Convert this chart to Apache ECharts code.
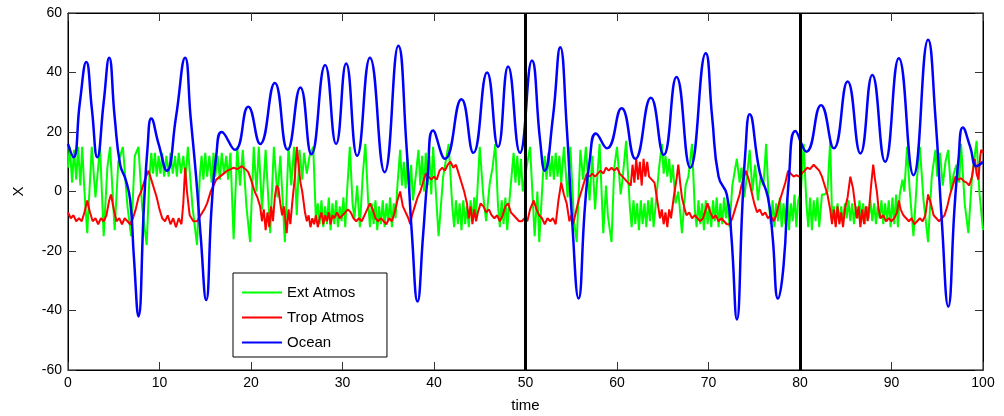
<!DOCTYPE html>
<html>
<head>
<meta charset="utf-8">
<script src="https://cdn.jsdelivr.net/npm/echarts@6/dist/echarts.min.js"></script>
<style>html,body{margin:0;padding:0;background:#fff}#c{width:1004px;height:416px}</style>
</head>
<body>
<div id="c"></div>
<script>
// ---- data ([time, value]) ----
const xTicks = [0,10,20,30,40,50,60,70,80,90,100];
const yTicks = [-60,-40,-20,0,20,40,60];
const markTimes = [50, 80];
const seriesNames = ['Ext Atmos','Trop Atmos','Ocean'];

const extAtmos = [
[0,8],[0.2,15],[0.45,3],[0.65,14],[0.9,4],[1.1,15],[1.35,2],[1.55,15],[1.8,0],[2.1,-14],[2.6,15],[3.0,-2],[3.5,15],[3.9,-15],[4.3,8],[4.6,15],[5.1,-13],[5.5,10],[6.0,15],[6.5,-5],[6.9,-15],[7.3,12],[7.7,15],[8.1,-5],[8.6,-18],[8.9,5],
[9.1,13],[9.3,6],[9.5,13],[9.7,5],[9.9,12],[10.1,6],[10.3,13],[10.5,5],[10.75,12],[11.0,5],[11.2,13],[11.45,6],[11.7,12],[11.9,5],[12.1,13],[12.35,6],[12.6,12],[12.85,4],[13.1,15],[13.6,-5],[14.1,-18],[14.4,5],
[14.6,12],[14.8,4],[15.0,13],[15.2,5],[15.45,12],[15.7,3],[15.9,13],[16.1,5],[16.35,12],[16.6,4],[16.8,13],[17.05,6],[17.3,12],[17.5,4],[17.75,13],[18.1,-16],
[18.5,15],[18.8,2],[19.1,14],[19.5,-5],[19.9,-17],[20.3,15],[20.6,0],[20.85,15],[21.2,-6],[21.6,14],[22.1,-14],[22.5,15],[22.9,-2],[23.2,12],[23.7,-17],[24.1,15],[24.4,2],[24.7,15],[25.0,-8],[25.3,14],[25.6,4],[25.8,13],[26.1,6],[26.4,12],[26.8,15],[27.1,-10],
[27.3,-4],[27.5,-11],[27.7,-3],[27.9,-12],[28.1,-5],[28.3,-11],[28.5,-2],[28.7,-13],[28.9,-4],[29.1,-11],[29.3,-3],[29.5,-12],[29.7,-5],[29.9,-10],[30.1,-2],[30.3,-12],[30.5,0],[30.8,15],[31.1,-4],[31.3,-9],[31.6,2],[31.9,-12],[32.2,5],[32.5,16],[32.8,-3],[33.0,-12],
[33.2,-4],[33.4,-11],[33.6,-3],[33.8,-13],[34.0,-5],[34.2,-11],[34.4,-3],[34.6,-12],[34.8,-4],[35.0,-10],[35.2,-2],[35.4,-12],[35.6,-4],[35.8,-9],[36.0,2],[36.3,14],[36.5,2],[36.7,10],[36.9,1],[37.1,11],[37.3,0],[37.5,9],[37.7,-3],[38.0,5],[38.3,14],[38.5,2],
[38.7,12],[38.9,0],[39.1,13],[39.3,2],[39.5,12],[39.7,-1],[39.9,15],[40.5,-15],[41.0,5],[41.6,16],[42.0,-5],[42.2,-12],[42.4,-3],[42.6,-11],[42.8,-4],[43.0,-13],[43.2,-3],[43.4,-11],[43.6,-5],[43.8,-12],[44.0,-3],[44.2,-10],[44.4,-2],[44.6,-8],[45.0,15],[45.4,-2],[45.7,-10],[46.1,3],[46.4,8],[46.7,16],[47.0,-5],
[47.2,-12],[47.4,-3],[47.6,-11],[47.8,-2],[48.0,-13],[48.3,-1],[48.7,13],[48.9,3],[49.1,12],[49.3,2],[49.5,11],[49.7,0],[50.0,6],[50.5,15],[51.0,-15],[51.3,0],[51.5,-17],
[51.9,5],[52.1,12],[52.3,4],[52.5,13],[52.7,5],[52.9,12],[53.1,4],[53.3,13],[53.5,5],[53.7,12],[53.9,3],[54.2,15],[54.6,-2],[54.9,15],[55.3,-10],[55.6,-17],[56.0,14],[56.3,4],[56.6,15],[57.0,-3],[57.3,12],[57.6,-6],[58.1,16],[58.5,-14],[58.8,2],[59.0,-8],[59.4,-17],[59.7,8],[60.0,15],[60.4,-1],[60.6,4],[61.0,17],[61.4,-5],
[61.6,-12],[61.8,-3],[62.0,-11],[62.2,-4],[62.4,-13],[62.6,-3],[62.8,-11],[63.0,-4],[63.2,-12],[63.4,-3],[63.6,-10],[63.8,-2],[64.0,-12],[64.3,-2],[64.6,8],[64.9,16],[65.1,6],[65.3,12],[65.5,5],[65.7,11],[65.9,3],[66.1,9],[66.4,-4],[66.7,0],[67.1,-14],[67.5,2],[67.8,5],[68.2,16],[68.5,-6],
[68.7,-12],[68.9,-3],[69.1,-11],[69.3,-4],[69.5,-13],[69.7,-3],[69.9,-11],[70.1,-5],[70.3,-12],[70.5,-3],[70.7,-10],[70.9,-2],[71.1,-12],[71.3,-4],[71.5,-11],[71.7,-2],[71.9,-9],[72.1,-3],[72.3,-12],[72.6,2],[73.1,11],[73.4,3],[73.6,8],[73.9,-2],[74.2,5],[74.5,14],[74.8,0],[75.1,9],[75.4,-3],[75.7,5],[76.0,2],[76.3,16],[76.6,-4],
[76.8,-11],[77.0,-3],[77.2,-12],[77.4,-4],[77.6,-10],[77.8,-2],[78.0,-12],[78.2,-4],[78.4,-11],[78.6,-2],[78.8,-13],[79.0,-4],[79.2,-10],[79.4,-1],[79.6,-12],[79.8,-3],[80.1,0],[80.4,16],[80.7,-4],[80.9,-12],[81.1,-2],[81.3,-13],[81.5,-3],[81.7,-10],[81.9,-2],[82.1,-12],[82.4,-1],[82.7,-1],[83.0,0],[83.3,17],[83.5,-8],
[83.7,-5],[83.9,-11],[84.1,-4],[84.3,-10],[84.5,-5],[84.7,-11],[84.9,-4],[85.1,-9],[85.3,-3],[85.5,-10],[85.7,-4],[85.9,-11],[86.1,-5],[86.3,-9],[86.5,-3],[86.7,-10],[86.9,-4],[87.1,-11],[87.3,-5],[87.5,-9],[87.7,-3],[87.9,-10],[88.1,-4],[88.3,-11],[88.5,-5],[88.7,-9],[88.9,-3],[89.1,-11],[89.3,-4],[89.5,-10],[89.7,-3],[89.9,-12],[90.1,-2],[90.3,-11],[90.5,-1],[90.7,-12],[90.9,-1],[91.2,4],[91.4,0],[91.7,15],
[92.0,0],[92.4,-15],[92.8,5],[93.1,15],[93.5,-3],[94.0,-17],[94.4,5],[94.8,14],[95.0,5],[95.3,13],[95.6,2],[95.9,10],[96.2,14],[96.5,0],[96.8,6],[97.1,9],[97.4,3],[97.6,16],[98.0,-4],[98.4,-14],[98.8,5],[99.3,17],[99.6,0],[100,-13]
];

const tropAtmos = [
[0,-7],[0.3,-9],[0.6,-8],[0.9,-10],[1.2,-9],[1.5,-10],[1.8,-7],[2.1,-3],[2.4,-7],[2.7,-10],[3.0,-9],[3.3,-11],[3.6,-9],[3.9,-10],[4.2,-8],[4.5,-3],[4.7,-1],[5.0,-6],[5.3,-10],[5.6,-9],[5.9,-11],[6.2,-9],[6.5,-10],[6.8,-11],[7.1,-9],[7.4,-6],[7.7,-2],[8.0,0],[8.4,4],[8.8,7],[9.1,4],[9.4,1],[9.7,-2],[10.0,-6],
[10.3,-9],[10.6,-10],[10.9,-8],[11.2,-11],[11.5,-9],[11.8,-12],[12.1,-9],[12.4,-11],[12.6,-4],[12.8,8],[13.0,0],[13.3,-8],[13.7,-10],[14.1,-10],[14.5,-8],[14.9,-6],[15.2,-4],[15.6,0],[15.9,2],[16.2,4],[16.6,5],[17.0,6],[17.4,7],[17.8,7.5],[18.1,8],[18.5,7.5],[19.0,8.5],[19.4,7.5],[19.7,6.5],[20.0,4],[20.4,0],[20.7,-2],
[21.0,-5],[21.2,-10],[21.4,-6],[21.6,-13],[21.8,-7],[22.0,-12],[22.2,-5],[22.4,-10],[22.6,-2],[22.8,2],[23.0,1],[23.2,-4],[23.4,-8],[23.6,-5],[23.9,-14],[24.1,-6],[24.3,-11],[24.5,-4],[24.8,5],[25.0,15],[25.2,9],[25.4,3],[25.6,0],[25.9,-7],[26.1,-10],[26.3,-8],[26.5,-12],[26.7,-9],[26.9,-11],[27.1,-8],[27.3,-12],[27.5,-9],
[27.7,-7],[27.9,-11],[28.1,-8],[28.3,-10],[28.5,-7],[28.7,-11],[28.9,-8],[29.1,-9],[29.4,-7],[29.7,-9],[30.0,-8],[30.3,-7],[30.6,-6],[30.9,-7],[31.2,-9],[31.5,-10],[31.8,-9],[32.1,-10],[32.4,-8],[32.7,-6],[33.0,-4],[33.3,-6],[33.6,-9],[33.9,-10],[34.2,-9],[34.5,-10],[34.8,-11],[35.1,-9],[35.4,-10],[35.7,-7],[36.0,-3],[36.3,0],
[36.6,-5],[36.9,-7],[37.2,-9],[37.4,-11],[37.6,-8],[37.9,-5],[38.2,-2],[38.5,0],[38.8,3],[39.1,6],[39.4,5],[39.7,4],[40.0,5],[40.3,4],[40.6,7],[40.9,8],[41.2,7],[41.5,9],[41.8,10],[42.1,8],[42.4,9],[42.7,6],[43.0,3],[43.3,0],[43.6,-4],[43.8,-9],[44.0,-5],[44.2,-11],[44.4,-6],[44.6,-10],[44.8,-7],[45.1,-4],[45.4,-5],
[45.7,-7],[46.0,-6],[46.3,-8],[46.6,-9],[46.9,-8],[47.2,-10],[47.5,-8],[47.8,-5],[48.1,-4],[48.4,-7],[48.7,-8],[49.0,-9],[49.3,-10],[49.6,-10],[49.9,-9],[50.2,-10],[50.5,-6],[50.9,-3],[51.2,-6],[51.5,-8],[51.8,-9],[52.1,-11],[52.4,-9],[52.7,-10],[53.0,-9],[53.3,-11],[53.6,-3],[53.9,3],[54.2,-1],[54.5,-4],[54.8,-10],
[55.0,-8],[55.2,-11],[55.5,-7],[55.8,-3],[56.1,0],[56.4,3],[56.7,6],[57.0,5],[57.3,6],[57.6,5],[57.9,6],[58.2,7],[58.5,6],[58.8,8],[59.1,7],[59.4,8],[59.7,7],[60.0,8],[60.3,6],[60.6,5],[60.9,4],[61.2,3],[61.5,2],[61.7,9],[61.9,3],[62.1,11],[62.3,4],[62.5,10],[62.7,2],[62.9,11],[63.1,5],[63.3,10],[63.5,5],[63.8,4],
[64.1,3],[64.4,-3],[64.7,-9],[64.9,-6],[65.1,-11],[65.3,-7],[65.5,-12],[65.7,-6],[65.9,-9],[66.2,-2],[66.5,4],[66.7,9],[66.9,3],[67.1,-2],[67.4,-6],[67.6,-8],[67.9,-7],[68.2,-9],[68.5,-8],[68.8,-9],[69.1,-10],[69.4,-9],[69.7,-6],[69.9,-4],[70.2,-7],[70.5,-9],[70.8,-8],[71.1,-10],[71.4,-9],[71.7,-10],[72.0,-11],
[72.3,-11],[72.6,-9],[72.9,-6],[73.1,-4],[73.4,-1],[73.6,2],[73.9,5],[74.1,7],[74.4,4],[74.7,0],[75.0,-4],[75.3,-7],[75.6,-6],[75.9,-8],[76.2,-7],[76.5,-9],[76.8,-8],[77.1,-10],[77.4,-8],[77.7,-4],[78.0,-1],[78.4,3],[78.7,7],[79.0,6],[79.3,5],[79.6,5.5],[79.9,5],[80.2,6],[80.5,7],[80.8,8],[81.1,7.5],[81.5,9],
[81.8,8],[82.1,7],[82.4,5],[82.7,2],[83.0,-1],[83.3,-6],[83.5,-11],[83.7,-6],[83.9,-12],[84.1,-5],[84.3,-11],[84.5,-7],[84.7,-12],[84.9,-6],[85.2,-2],[85.5,5],[85.8,1],[86.0,-4],[86.2,-9],[86.4,-5],[86.6,-12],[86.8,-6],[87.0,-11],[87.2,-5],[87.4,-10],[87.6,-4],[87.8,3],[88.0,9],[88.2,4],[88.4,0],[88.6,-6],
[88.8,-9],[89.1,-8],[89.4,-10],[89.7,-9],[90.0,-10],[90.3,-9],[90.6,-7],[90.8,-3],[91.0,-6],[91.3,-8],[91.6,-9],[91.9,-10],[92.2,-9],[92.5,-11],[92.8,-10],[93.1,-9],[93.4,-10],[93.7,-8],[94.0,-1],[94.3,-4],[94.6,-8],[94.9,-9],[95.2,-10],[95.5,-9],[95.8,-8],[96.1,-5],[96.4,-1],[96.7,2],[97.0,5],[97.3,4],
[97.6,4.5],[97.9,3.5],[98.2,3],[98.5,2],[98.8,5],[99.1,11],[99.3,6],[99.5,4],[99.7,12],[99.8,14],[100,13]
];

const ocean = [
[0,16],[0.6,11.5],[1.3,30],[2.0,43.5],[2.6,28],[3.2,11.5],[3.9,30],[4.5,45],[5.1,25],[5.7,9],[6.3,4],[6.8,-3],[7.2,-22],[7.7,-42],[8.3,-5],[8.7,15],[9.1,24.5],[9.9,16],[10.8,7],[11.8,25],[12.8,45],[13.4,25],[14.0,5],[14.5,-15],[15.1,-36.5],[15.7,-5],[16.2,12],[16.8,20],
[18.25,14],[19.7,28.5],[21.0,16],[22.6,36.5],[24.0,14],[25.4,35],[26.6,12.5],[28.1,42.5],[29.3,16],[30.4,43],[31.6,12],[33.0,45],[34.6,6.5],[36.1,49],[37.0,15],[37.6,-15],[38.2,-37],[38.8,-15],[39.3,5],[39.9,20.5],
[41.2,11],[43.0,31],[44.3,13],[45.8,40],[47.0,15],[48.1,42],[49.4,13],[50.7,44],[51.6,17],[52.1,7],[53.0,25],[53.8,48.5],[54.5,22],[55.1,-10],[55.8,-36],[56.5,-5],[57.0,10],[57.7,19.5],[58.9,14.5],[60.5,28],[62.0,11],[63.7,31.5],
[65.1,12.3],[66.5,38.5],[68.0,8],[69.7,46.5],[70.4,25],[71.1,5],[72.0,-1],[72.5,-15],[73.1,-43],[73.7,-5],[74.0,12],[74.5,26],[75.6,6.5],[76.5,-2],[77.0,-15],[77.6,-36],[78.2,-25],[78.8,5],[79.5,20.3],[80.7,13.4],[82.3,29],[83.7,14.5],
[85.2,37],[86.6,12.8],[87.9,39.2],[89.3,10],[90.8,44.8],[92.4,5.5],[94.0,51],[94.8,25],[95.5,-10],[96.2,-38.7],[96.9,-5],[97.3,10],[97.8,21.5],[98.6,15],[99.3,8.5],[100,10]
];

const font = 'Liberation Sans, Arial, Helvetica, sans-serif';
const chart = echarts.init(document.getElementById('c'), null, {renderer:'canvas'});
const tickStyle = {inside:true, length:8, lineStyle:{color:'#333', width:1}};
const axisLineStyle = {show:true, onZero:false, lineStyle:{color:'#000', width:1}};
chart.setOption({
  animation:false,
  backgroundColor:'#fff',
  grid:{left:68, right:21, top:13, bottom:46, outerBoundsMode:'none', containLabel:false, show:true, borderColor:'#000', borderWidth:1, backgroundColor:'#fff'},
  legend:{
    orient:'vertical', left:233, top:273, data:seriesNames,
    icon:'rect', itemWidth:40, itemHeight:2, itemGap:8,
    backgroundColor:'#fff', borderColor:'#000', borderWidth:1, borderRadius:0,
    padding:[11,23,6,9],
    textStyle:{fontFamily:font, fontSize:15, color:'#000', lineHeight:17}
  },
  xAxis:[
    {type:'value', min:xTicks[0], max:xTicks[xTicks.length-1], interval:10, name:'time', nameLocation:'middle', nameGap:28,
     nameTextStyle:{fontFamily:font, fontSize:15, color:'#000'},
     axisLine:axisLineStyle, axisTick:tickStyle, splitLine:{show:false},
     axisLabel:{fontFamily:font, fontSize:14, color:'#000', margin:6}},
    {type:'value', position:'top', min:0, max:100, interval:10, axisLine:axisLineStyle, axisTick:tickStyle, axisLabel:{show:false}, splitLine:{show:false}}
  ],
  yAxis:[
    {type:'value', min:yTicks[0], max:yTicks[yTicks.length-1], interval:20, name:'X', nameLocation:'middle', nameGap:42, nameRotate:90,
     nameTextStyle:{fontFamily:font, fontSize:15, color:'#000'},
     axisLine:axisLineStyle, axisTick:tickStyle, splitLine:{show:false},
     axisLabel:{fontFamily:font, fontSize:14, color:'#000', margin:6}},
    {type:'value', position:'right', min:-60, max:60, interval:20, axisLine:axisLineStyle, axisTick:tickStyle, axisLabel:{show:false}, splitLine:{show:false}}
  ],
  series:[
    {name:seriesNames[0], type:'line', data:extAtmos, showSymbol:false, symbol:'none', lineStyle:{color:'#00ff00', width:2}, itemStyle:{color:'#00ff00'}, z:2},
    {name:seriesNames[1], type:'line', data:tropAtmos, showSymbol:false, symbol:'none', lineStyle:{color:'#ff0000', width:2}, itemStyle:{color:'#ff0000'}, z:3},
    {name:seriesNames[2], type:'line', data:ocean, smooth:0.5, showSymbol:false, symbol:'none', lineStyle:{color:'#0000ff', width:2.5}, itemStyle:{color:'#0000ff'}, z:4,
     markLine:{silent:true, symbol:'none', label:{show:false}, lineStyle:{color:'#000', width:3, type:'solid'},
       data:markTimes.map(t=>({xAxis:t}))}}
  ]
});
</script>
</body>
</html>
